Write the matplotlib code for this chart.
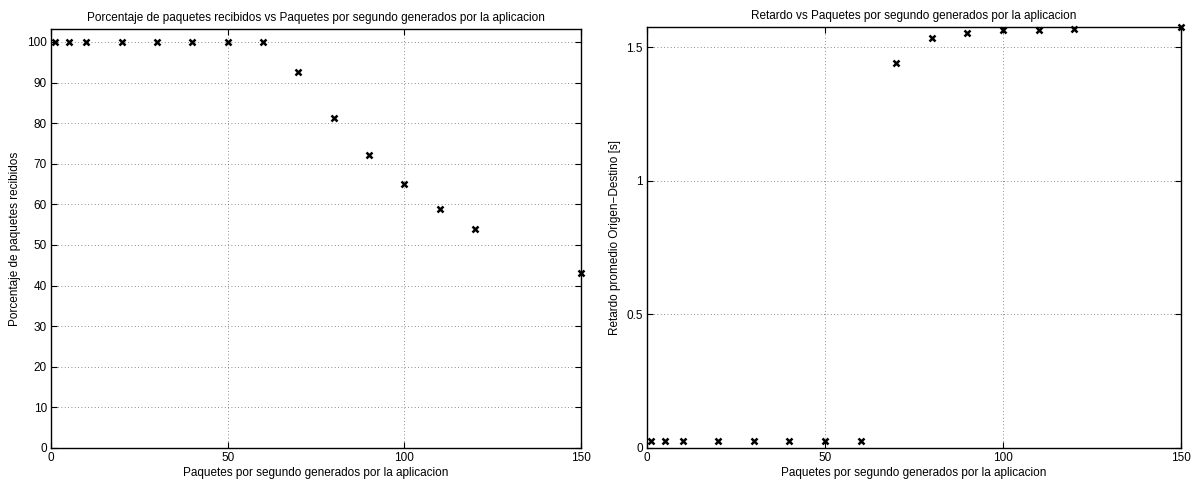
import numpy as np
import matplotlib
matplotlib.use('Agg')
import matplotlib.pyplot as plt
from matplotlib.ticker import FuncFormatter

plt.rcParams['font.family'] = ['Liberation Sans', 'DejaVu Sans']
plt.rcParams['font.size'] = 8.5

# Data
pps = [1, 5, 10, 20, 30, 40, 50, 60, 70, 80, 90, 100, 110, 120, 150]
recibidos = [100, 100, 100, 100, 100, 100, 100, 100, 92.7, 81.3, 72.2, 65.1, 58.9, 53.9, 43.1]
retardo = [0.027, 0.027, 0.027, 0.027, 0.027, 0.027, 0.027, 0.027,
           1.44, 1.534, 1.553, 1.562, 1.565, 1.568, 1.575]

xlabel = 'Paquetes por segundo generados por la aplicacion'


def matlab_style(ax):
    ax.tick_params(direction='in', top=True, right=True, length=4, width=0.8,
                   pad=3, labelsize=8.5)
    for s in ax.spines.values():
        s.set_linewidth(1.0)
    ax.grid(True, linestyle=(0, (1, 3)), color='#666666', linewidth=0.6)
    ax.set_axisbelow(True)


fig = plt.figure(figsize=(11.95, 4.82), dpi=100)
ax1 = fig.add_axes([51 / 1195, 1 - 448 / 482, 530 / 1195, 419 / 482])
ax2 = fig.add_axes([647 / 1195, 1 - 448 / 482, 534 / 1195, 421 / 482])

# Left: percentage received
ax1.plot(pps, recibidos, 'kx', markersize=4.5, markeredgewidth=1.8, clip_on=False)
ax1.set_xlim(0, 150)
ax1.set_ylim(0, 103.2)
ax1.set_xticks([0, 50, 100, 150])
ax1.set_yticks(np.arange(0, 101, 10))
ax1.set_xlabel(xlabel, labelpad=2)
ax1.set_ylabel('Porcentaje de paquetes recibidos', labelpad=4)
ax1.set_title('Porcentaje de paquetes recibidos vs Paquetes por segundo generados por la aplicacion',
              pad=6, fontsize=8.5)
matlab_style(ax1)

# Right: delay
ax2.plot(pps, retardo, 'kx', markersize=4.5, markeredgewidth=1.8, clip_on=False)
ax2.set_xlim(0, 150)
ax2.set_ylim(0, 1.575)
ax2.set_xticks([0, 50, 100, 150])
ax2.set_yticks([0, 0.5, 1, 1.5])
ax2.yaxis.set_major_formatter(FuncFormatter(lambda v, p: '%g' % v))
ax2.set_xlabel(xlabel, labelpad=2)
ax2.set_ylabel('Retardo promedio Origen\u2212Destino [s]', labelpad=4)
ax2.set_title('Retardo vs Paquetes por segundo generados por la aplicacion',
              pad=6, fontsize=8.5)
matlab_style(ax2)

fig.savefig('out.png', dpi=100)
